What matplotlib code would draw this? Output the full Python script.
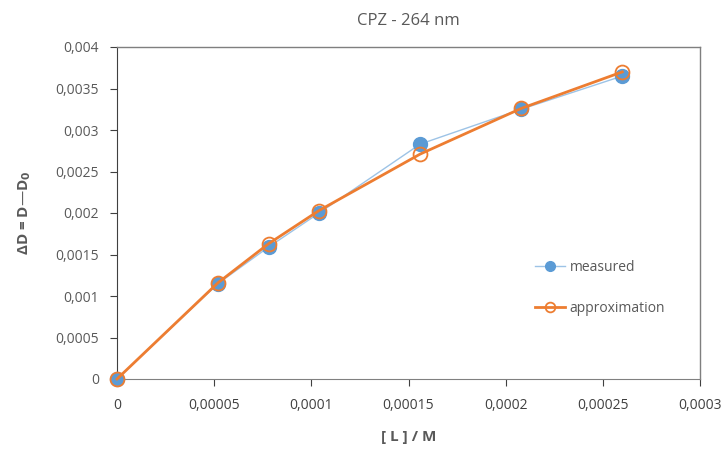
import matplotlib
matplotlib.use('Agg')
import matplotlib.pyplot as plt
from matplotlib.ticker import FuncFormatter, MultipleLocator

plt.rcParams['font.family'] = ['Open Sans', 'DejaVu Sans']

# concentrations [L] / M
conc = [0, 0.000052, 0.000078, 0.000104, 0.000156, 0.000208, 0.00026]
# measured and fitted absorbance differences
measured = [0, 0.00115, 0.00159, 0.00200, 0.00283, 0.00325, 0.00365]
approx = [0, 0.00116, 0.00163, 0.00203, 0.00271, 0.00326, 0.00370]

title = 'CPZ - 264 nm'
xlabel = '[ L ] / M'
ylabel = 'ΔD = D—D$_\\mathbf{0}$'


def comma_fmt(v, pos):
    if abs(v) < 1e-12:
        return '0'
    s = format(v, '.5f').rstrip('0').rstrip('.')
    return s.replace('.', ',')


fig = plt.figure(figsize=(7.23, 4.5), dpi=100)
ax = fig.add_axes([117 / 723, 71 / 450, 583 / 723, 332 / 450])

ax.plot(conc, measured, color='#9DC3E6', lw=1, marker='o', ms=10,
        mfc='#5B9BD5', mec='#5B9BD5', label='measured', zorder=3, clip_on=False)
ax.plot(conc, approx, color='#ED7D31', lw=2, marker='o', ms=10,
        mfc='none', mec='#ED7D31', mew=1.3, label='approximation', zorder=4,
        clip_on=False)

ax.set_xlim(0, 0.0003)
ax.set_ylim(0, 0.004)
ax.xaxis.set_major_locator(MultipleLocator(0.00005))
ax.yaxis.set_major_locator(MultipleLocator(0.0005))
ax.xaxis.set_major_formatter(FuncFormatter(comma_fmt))
ax.yaxis.set_major_formatter(FuncFormatter(comma_fmt))

for side in ['top', 'right']:
    ax.spines[side].set_color('#7F7F7F')
    ax.spines[side].set_linewidth(1)
ax.spines['left'].set_color('#404040')
ax.spines['bottom'].set_color('#808080')
ax.tick_params(axis='both', direction='out', length=5, colors='#404040',
               labelsize=10, labelcolor='#595959', pad=8)
ax.tick_params(axis='x', colors='#404040', pad=9)

ax.set_title(title, fontsize=12, color='#595959', pad=16)
ax.set_xlabel(xlabel, fontsize=11, fontweight='bold', color='#595959', labelpad=12)
ax.set_ylabel(ylabel, fontsize=11, fontweight='bold', color='#595959', labelpad=16)

ax.legend(loc='center left', bbox_to_anchor=(0.695, 0.275), frameon=False,
          fontsize=10, labelcolor='#595959', handlelength=2.2,
          handletextpad=0.3, labelspacing=1.9, markerscale=0.7)

fig.savefig('out.png', dpi=100)
